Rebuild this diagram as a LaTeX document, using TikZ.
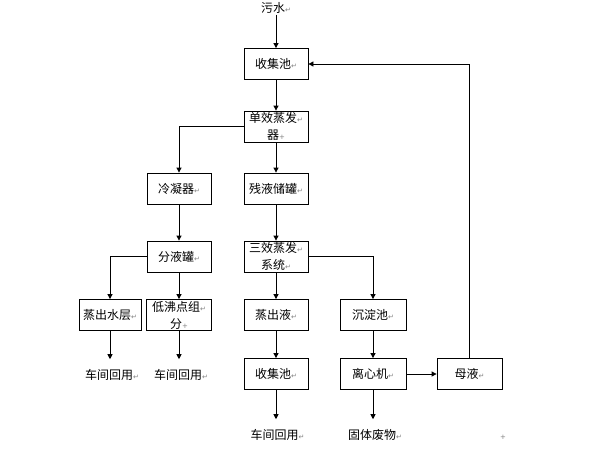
\documentclass[tikz,border=0pt]{standalone}
\usepackage{fontspec}
\setmainfont{Noto Sans CJK SC}
\newfontfamily\markfont{DejaVu Sans}
\usetikzlibrary{arrows.meta}
\newcommand{\retmark}{{\markfont\fontsize{7}{7}\selectfont\color{gray}↵}}
\newcommand{\cellmark}{{\markfont\fontsize{7}{7}\selectfont\color{gray}+}}
\begin{document}
\begin{tikzpicture}[x=1pt, y=-1pt, font=\fontsize{12}{17}\selectfont,
  box/.style = {draw, line width=0.8pt, minimum width=64pt, minimum height=31pt, inner sep=1pt, align=center},
  srctxt/.style = {inner sep=1pt},
  outtxt/.style = {inner xsep=1pt, inner ysep=10pt},
  flow/.style = {-{Triangle[length=5pt,width=5pt]}, line width=0.8pt}]
\useasboundingbox (0,0) rectangle (592,456);

\node[srctxt] (src) at (276,8) {污水\retmark};
\node[box] (pool) at (276,64) {收集池\retmark};
\node[box] (evap1) at (276,126.5) {单效蒸发\retmark\\器\cellmark};
\node[box] (cond) at (179,188.5) {冷凝器\retmark};
\node[box] (tank) at (276,188.5) {残液储罐\retmark};
\node[box] (sep) at (179,256.5) {分液罐\retmark};
\node[box] (evap3) at (276,256.5) {三效蒸发\retmark\\系统\retmark};
\node[box, minimum width=62pt] (water) at (110,315) {蒸出水层\retmark};
\node[box, minimum width=65pt] (low) at (179,315) {低沸点组\retmark\\分\cellmark};
\node[box] (distil) at (276,315) {蒸出液\retmark};
\node[box, minimum width=66pt] (settle) at (373,315) {沉淀池\retmark};
\node[box] (pool2) at (276,374) {收集池\retmark};
\node[box, minimum width=66pt] (centri) at (373,374) {离心机\retmark};
\node[box, minimum width=65pt] (mother) at (469.5,374) {母液\retmark};
\node[outtxt] (use1) at (112,375) {车间回用\retmark};
\node[outtxt] (use2) at (181,375) {车间回用\retmark};
\node[outtxt] (use3) at (277.5,435) {车间回用\retmark};
\node[outtxt] (waste) at (375,435) {固体废物\retmark};
\node[srctxt] (stray) at (503,437) {\cellmark};

\draw[flow] (src) -- (pool);
\draw[flow] (pool) -- (evap1);
\draw[flow] (evap1.west) -| (cond.north);
\draw[flow] (evap1) -- (tank);
\draw[flow] (cond) -- (sep);
\draw[flow] (tank) -- (evap3);
\draw[flow] (sep.west) -| (water.north);
\draw[flow] (sep) -- (low);
\draw[flow] (evap3) -- (distil);
\draw[flow] (evap3.east) -| (settle.north);
\draw[flow] (distil) -- (pool2);
\draw[flow] (settle) -- (centri);
\draw[flow] (centri) -- (mother);
\draw[flow] (mother.north) |- (pool.east);
\draw[flow] (water.south) -- (water.south |- use1.north);
\draw[flow] (low.south) -- (low.south |- use2.north);
\draw[flow] (pool2.south) -- (pool2.south |- use3.north);
\draw[flow] (centri.south) -- (centri.south |- waste.north);

\end{tikzpicture}
\end{document}
